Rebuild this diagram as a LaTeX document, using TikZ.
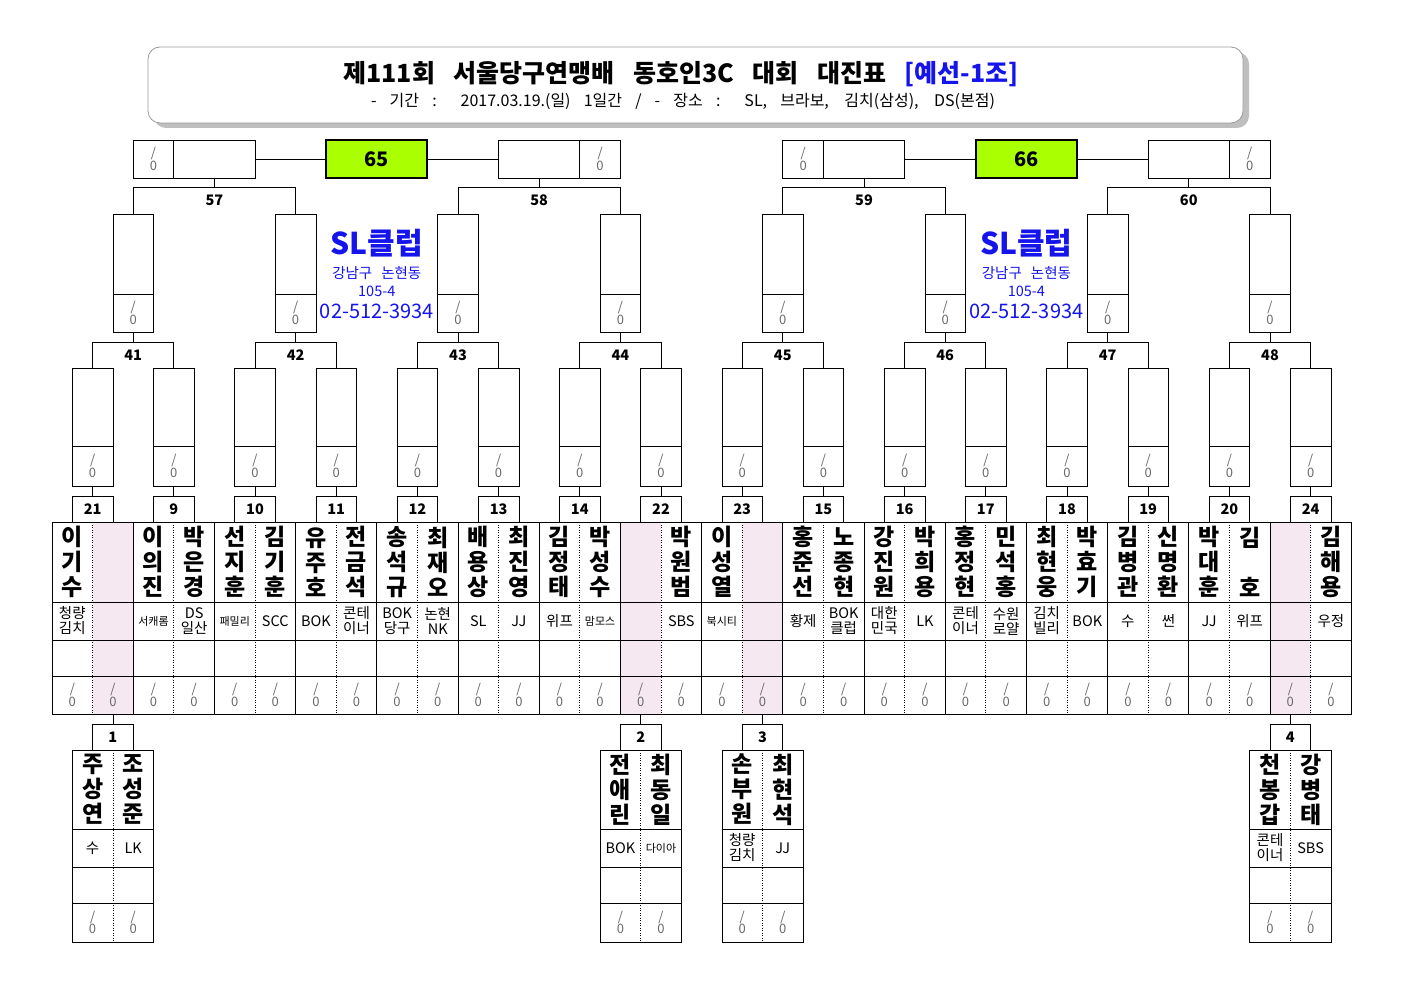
\documentclass[tikz,border=0pt]{standalone}
\usepackage{fontspec}
\setmainfont{Noto Sans CJK KR}
\definecolor{pinkc}{RGB}{246,232,240}
\definecolor{limec}{RGB}{170,255,0}
\definecolor{bluec}{RGB}{20,20,235}
\definecolor{scoregray}{RGB}{105,105,105}
\newcommand\mynamefont{\fontsize{23}{25}\selectfont\bfseries}
\newcommand\myclubfont{\fontsize{14.5}{15}\selectfont}
\newcommand\mysmallclub{\fontsize{11}{12}\selectfont}
\newcommand\mynumfont{\fontsize{14.5}{15}\selectfont\bfseries}
\newcommand\myscorefont{\fontsize{13}{11.5}\selectfont}
\newcommand\myfinalfont{\fontsize{20}{22}\selectfont\bfseries}
\newcommand\mypcol[3]{%
  \pgfmathsetmacro\cx{72.3+40.6*#1}%
  \node[namecell] (nm#1) at (\cx,562) {#2};
  \node[clubcell] (cl#1) at (\cx,621) {#3};
  \node[scoremark] (sc#1) at (\cx,695) {/\\0};
}
\newcommand\mylower[6]{%
  \pgfmathsetmacro\lx{72.3+40.6*#1}%
  \coordinate (tb#2) at (\lx,714);
  \node[numbox] (lb#2) at (\lx,724) {#2};
  \draw (tb#2) -- (lb#2.north);
  \node[draw,minimum width=81.2pt,minimum height=192pt,anchor=north] (lt#2) at (\lx,750) {};
  \draw ({\lx-40.6},829) -- ({\lx+40.6},829);
  \draw ({\lx-40.6},867) -- ({\lx+40.6},867);
  \draw ({\lx-40.6},903) -- ({\lx+40.6},903);
  \draw[dotline] (\lx,750) -- (\lx,942);
  \node[namecell] (ln#2a) at ({\lx-20.3},789.5) {#3};
  \node[namecell] (ln#2b) at ({\lx+20.3},789.5) {#4};
  \node[clubcell] (lc#2a) at ({\lx-20.3},848) {#5};
  \node[clubcell] (lc#2b) at ({\lx+20.3},848) {#6};
  \node[scoremark] (ls#2a) at ({\lx-20.3},922.5) {/\\0};
  \node[scoremark] (ls#2b) at ({\lx+20.3},922.5) {/\\0};
}
\begin{document}
\begin{tikzpicture}[x=1pt,y=-1pt,line width=0.8pt,
  every node/.style={inner sep=0pt,outer sep=0pt},
  cellbox/.style={draw,minimum width=40.6pt,minimum height=118pt,anchor=north},
  numbox/.style={draw,minimum width=40.6pt,minimum height=26pt,anchor=north,font=\mynumfont},
  numlabel/.style={font=\mynumfont},
  scoremark/.style={align=center,text=scoregray,font=\myscorefont},
  namecell/.style={align=center,font=\mynamefont},
  clubcell/.style={align=center,font=\myclubfont},
  dotline/.style={line width=0.7pt,dash pattern=on 1pt off 1.5pt},
  bigbox/.style={draw,minimum width=81.2pt,minimum height=38pt},
  smallbox/.style={draw,minimum width=40.6pt,minimum height=38pt,align=center,text=scoregray,font=\myscorefont},
  finalbox/.style={draw,line width=1.8pt,fill=limec,minimum width=101pt,minimum height=38pt,font=\myfinalfont},
  bluebig/.style={text=bluec,font=\fontsize{30}{32}\selectfont\bfseries},
  bluesmall/.style={text=bluec,font=\fontsize{14.5}{15}\selectfont},
  bluephone/.style={text=bluec,font=\fontsize{20}{21}\selectfont}]
\useasboundingbox (0,0) rectangle (1403,992);
\fill[white] (0,0) rectangle (1403,992);

% title
\fill[black!25,rounded corners=12pt] (154,52) rectangle (1249,128);
\draw[black!40,fill=white,rounded corners=12pt] (148,47) rectangle (1243,123);
\node (title) at (681,74) {\fontsize{25}{26}\selectfont\bfseries\makebox[675pt][s]{제111회 서울당구연맹배 동호인3C 대회 대진표 \textcolor{bluec}{[예선-1조]}}};
\node (subtitle) at (683,101) {\fontsize{16}{17}\selectfont\makebox[624pt][s]{- 기간 : 2017.03.19.(일) 1일간 / - 장소 : SL, 브라보, 김치(삼성), DS(본점)}};

% pink columns
\foreach \c in {1,14,17,30}{
  \fill[pinkc] ({52+40.6*\c},522) rectangle ({52+40.6*(\c+1)},714);
}
% main table frame
\draw (52,522) rectangle (1351,714);
\foreach \yy in {602,640,676}{ \draw (52,\yy) -- (1351,\yy); }
\foreach \k in {1,...,15}{ \draw ({52+81.2*\k},522) -- ({52+81.2*\k},714); }
\foreach \k in {0,...,15}{ \draw[dotline] ({92.6+81.2*\k},522) -- ({92.6+81.2*\k},714); }

% players
\mypcol{0}{이\\기\\수}{청량\\김치}
\mypcol{1}{}{}
\mypcol{2}{이\\의\\진}{\mysmallclub 서캐롬}
\mypcol{3}{박\\은\\경}{DS\\일산}
\mypcol{4}{선\\지\\훈}{\mysmallclub 패밀리}
\mypcol{5}{김\\기\\훈}{SCC}
\mypcol{6}{유\\주\\호}{BOK}
\mypcol{7}{전\\금\\석}{콘테\\이너}
\mypcol{8}{송\\석\\규}{BOK\\당구}
\mypcol{9}{최\\재\\오}{논현\\NK}
\mypcol{10}{배\\용\\상}{SL}
\mypcol{11}{최\\진\\영}{JJ}
\mypcol{12}{김\\정\\태}{위프}
\mypcol{13}{박\\성\\수}{\mysmallclub 맘모스}
\mypcol{14}{}{}
\mypcol{15}{박\\원\\범}{SBS}
\mypcol{16}{이\\성\\열}{\mysmallclub 북시티}
\mypcol{17}{}{}
\mypcol{18}{홍\\준\\선}{황제}
\mypcol{19}{노\\종\\현}{BOK\\클럽}
\mypcol{20}{강\\진\\원}{대한\\민국}
\mypcol{21}{박\\희\\용}{LK}
\mypcol{22}{홍\\정\\현}{콘테\\이너}
\mypcol{23}{민\\석\\홍}{수원\\로얄}
\mypcol{24}{최\\현\\웅}{김치\\빌리}
\mypcol{25}{박\\효\\기}{BOK}
\mypcol{26}{김\\병\\관}{수}
\mypcol{27}{신\\명\\환}{썬}
\mypcol{28}{박\\대\\훈}{JJ}
\mypcol{29}{김\\~\\호}{위프}
\mypcol{30}{}{}
\mypcol{31}{김\\해\\용}{우정}

% match number boxes and first-round boxes
\foreach \k/\lab in {0/21,1/9,2/10,3/11,4/12,5/13,6/14,7/22,8/23,9/15,10/16,11/17,12/18,13/19,14/20,15/24}{
  \node[numbox] (nb\k) at ({92.6+81.2*\k},496) {\lab};
  \node[cellbox] (r\k) at ({92.6+81.2*\k},368) {};
  \draw ({72.3+81.2*\k},446) -- ({112.9+81.2*\k},446);
  \node[scoremark] (rs\k) at ({92.6+81.2*\k},466) {/\\0};
  \draw (nb\k.north) -- (r\k.south);
}
% second-round boxes
\foreach \j in {0,...,7}{
  \node[cellbox] (q\j) at ({133.2+162.4*\j},214) {};
  \draw ({112.9+162.4*\j},294) -- ({153.5+162.4*\j},294);
  \node[scoremark] (qs\j) at ({133.2+162.4*\j},313) {/\\0};
}
\foreach \j in {0,...,7}{
  \pgfmathtruncatemacro\a{2*\j}
  \pgfmathtruncatemacro\b{2*\j+1}
  \pgfmathtruncatemacro\lab{41+\j}
  \draw (r\a.north) -- ++(0,-26) -| (r\b.north);
  \node[numlabel] (l\lab) at ({133.2+162.4*\j},355) {\lab};
  \draw (q\j.south) -- ++(0,10);
}
% top boxes
\node[bigbox] (t0) at (214.4,159) {};
\node[smallbox,anchor=east] (ts0) at (t0.west) {/\\0};
\node[bigbox] (t1) at (539.2,159) {};
\node[smallbox,anchor=west] (ts1) at (t1.east) {/\\0};
\node[bigbox] (t2) at (864,159) {};
\node[smallbox,anchor=east] (ts2) at (t2.west) {/\\0};
\node[bigbox] (t3) at (1188.8,159) {};
\node[smallbox,anchor=west] (ts3) at (t3.east) {/\\0};
\foreach \j in {0,...,3}{
  \pgfmathtruncatemacro\a{2*\j}
  \pgfmathtruncatemacro\b{2*\j+1}
  \pgfmathtruncatemacro\lab{57+\j}
  \draw (q\a.north) -- ++(0,-27) -| (q\b.north);
  \node[numlabel] (l\lab) at ({214.4+324.8*\j},200) {\lab};
  \draw (t\j.south) -- ++(0,9);
}
% finals
\node[finalbox] (f65) at (376.8,159) {65};
\node[finalbox] (f66) at (1026.4,159) {66};
\draw (t0.east) -- (f65.west);
\draw (f65.east) -- (t1.west);
\draw (t2.east) -- (f66.west);
\draw (f66.east) -- (t3.west);

% club info
\foreach \cx/\nm in {376.8/L,1026.4/R}{
  \node[bluebig] (club\nm) at (\cx,243) {SL클럽};
  \node[bluesmall] (addr\nm) at (\cx,273) {강남구\hspace{0.4em} 논현동};
  \node[bluesmall] (num\nm) at (\cx,291) {105-4};
  \node[bluephone] (tel\nm) at (\cx,311) {02-512-3934};
}

% preliminary matches
\mylower{1}{1}{주\\상\\연}{조\\성\\준}{수}{LK}
\mylower{14}{2}{전\\애\\린}{최\\동\\일}{BOK}{\mysmallclub 다이아}
\mylower{17}{3}{손\\부\\원}{최\\현\\석}{청량\\김치}{JJ}
\mylower{30}{4}{천\\봉\\갑}{강\\병\\태}{콘테\\이너}{SBS}
\end{tikzpicture}
\end{document}
